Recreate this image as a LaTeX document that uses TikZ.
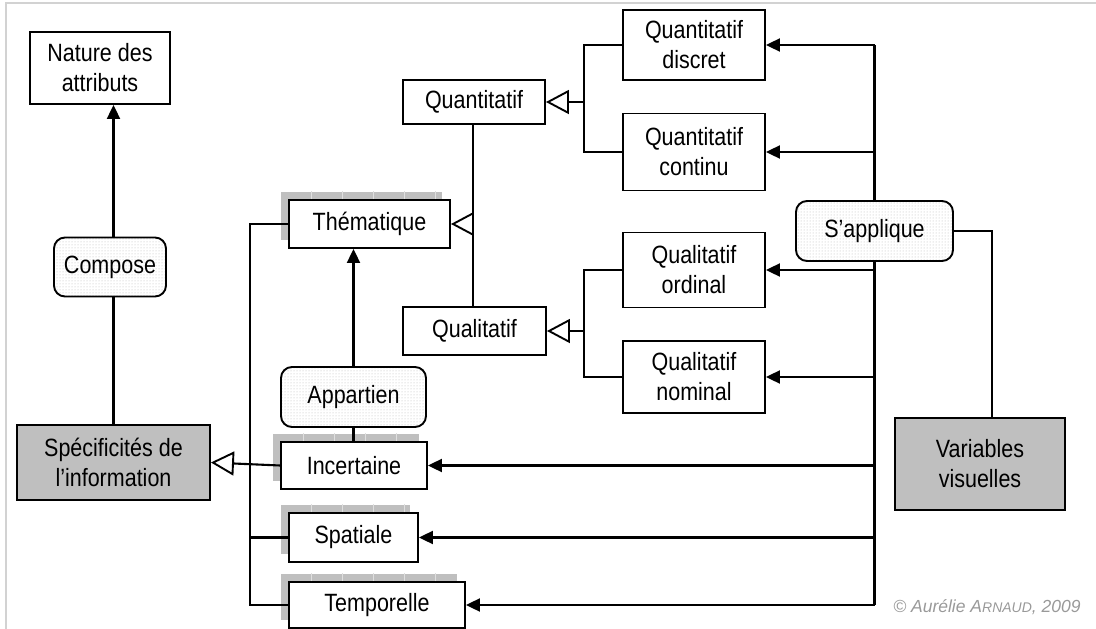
\documentclass[tikz,border=0pt]{standalone}
\usepackage{fontspec}
\setmainfont{Liberation Sans}[FakeStretch=0.86]
\newfontfamily\cpyfont{Liberation Sans}
\usetikzlibrary{arrows.meta,patterns,shadows}
\begin{document}
\begin{tikzpicture}[x=1pt,y=-1pt,
  every node/.style={font=\fontsize{25}{30}\selectfont, align=center, inner sep=0pt},
  box/.style={draw, line width=1.9pt, fill=white},
  graybox/.style={draw, line width=1.9pt, fill=black!25},
  rbox/.style={draw, line width=1.9pt, rounded corners=11pt, preaction={fill=white}, pattern=dots, pattern color=gray!55},
  sbox/.style={box, general shadow={fill=black!25, shadow xshift=-8pt, shadow yshift=8pt}},
  sep/.style={white!75!gray, line width=1pt},
  conn/.style={line width=2.1pt},
  arr/.style={conn, -{Triangle[length=14pt,width=13pt]}},
  gen/.style={conn, -{Triangle[open,length=23pt,width=24pt,line width=1.9pt]}}
]
\useasboundingbox (0,0) rectangle (1096,629);
\draw[gray!35, line width=1.5pt] (6,629) -- (6,3) -- (1096,3);

% left part
\node[box, minimum width=140pt, minimum height=72pt] (nat) at (100,68) {Nature des\\attributs};
\node[rbox, minimum width=112pt, minimum height=59pt] (comp) at (110,267) {Compose};
\node[graybox, minimum width=193pt, minimum height=75pt] (spec) at (113.5,462.5) {Spécificités de\\l’information};

% central
\node[sbox, minimum width=161pt, minimum height=48pt] (them) at (369.5,224) {Thématique};
\node[rbox, minimum width=145pt, minimum height=60pt] (app) at (353.5,397) {Appartien};
\node[sbox, minimum width=146pt, minimum height=47pt] (inc) at (354,465.5) {Incertaine};
\node[sbox, minimum width=129pt, minimum height=49pt] (spa) at (353.5,537.5) {Spatiale};
\node[sbox, minimum width=176pt, minimum height=46pt] (tem) at (377,605) {Temporelle};

% shadow separators
\foreach \i in {1,...,5} \draw[sep] ([xshift=\i*31pt-8pt]them.north west) -- ++(0,-8);
\foreach \i in {1,...,4} \draw[sep] ([xshift=\i*31pt-8pt]inc.north west) -- ++(0,-8);
\foreach \i in {1,...,4} \draw[sep] ([xshift=\i*31pt-8pt]spa.north west) -- ++(0,-8);
\foreach \i in {1,...,5} \draw[sep] ([xshift=\i*31pt-8pt]tem.north west) -- ++(0,-8);

\node[box, minimum width=142pt, minimum height=44pt] (quant) at (474,102) {Quantitatif};
\node[box, minimum width=143pt, minimum height=48pt] (qual) at (474.5,331) {Qualitatif};

\node[box, minimum width=142pt, minimum height=70pt] (qd) at (694,45) {Quantitatif\\discret};
\node[box, minimum width=142pt, minimum height=77pt] (qc) at (694,152) {Quantitatif\\continu};
\node[box, minimum width=142pt, minimum height=75pt] (qo) at (694,270) {Qualitatif\\ordinal};
\node[box, minimum width=142pt, minimum height=72pt] (qn) at (694,377) {Qualitatif\\nominal};

\node[rbox, minimum width=157pt, minimum height=60pt] (sap) at (874.5,231) {S’applique};
\node[graybox, minimum width=170pt, minimum height=92pt] (vv) at (980,464) {Variables\\visuelles};

\node[text=gray!80, font=\cpyfont\fontsize{17.5}{20}\selectfont\itshape] (cpy) at (987,607) {© Aurélie A{\fontsize{14}{16}\selectfont RNAUD}, 2009};

% coordinates
\coordinate (lb) at (250,0);
\coordinate (gx) at (473,0);
\coordinate (qx) at (584,0);

% left connectors
\draw[conn] (spec.north) -- (spec.north |- comp.south);
\draw[arr] (spec.north |- comp.north) -- (spec.north |- nat.south);
\draw[gen] (inc.west) -- (spec.east);
\draw[conn] (them.west) -- (them.west -| lb) -- (tem.west -| lb) -- (tem.west);
\draw[conn] (spa.west) -- (spa.west -| lb);

% appartien
\draw[conn] (app.south) -- (app.south |- inc.north);
\draw[arr] (app.north) -- (app.north |- them.south);

% generalisation thematique
\draw[conn] (gx |- quant.south) -- (gx |- qual.north);
\draw[gen] (gx |- them.east) -- (them.east);

% quantitatif
\draw[conn] (qd.west) -- (qd.west -| qx) -- (qc.west -| qx) -- (qc.west);
\draw[gen] (qx |- quant.east) -- (quant.east);
% qualitatif
\draw[conn] (qo.west) -- (qo.west -| qx) -- (qn.west -| qx) -- (qn.west);
\draw[gen] (qx |- qual.east) -- (qual.east);

% s'applique
\draw[conn] (sap |- qd.east) -- (sap.north);
\draw[conn] (sap.south) -- (sap |- tem.east);
\draw[arr] (sap |- qd.east) -- (qd.east);
\draw[arr] (sap |- qc.east) -- (qc.east);
\draw[arr] (sap |- qo.east) -- (qo.east);
\draw[arr] (sap |- qn.east) -- (qn.east);
\draw[arr] (sap |- inc.east) -- (inc.east);
\draw[arr] (sap |- spa.east) -- (spa.east);
\draw[arr] (sap |- tem.east) -- (tem.east);
\draw[conn] (sap.east) -| ([xshift=12pt]vv.north);
\end{tikzpicture}
\end{document}
